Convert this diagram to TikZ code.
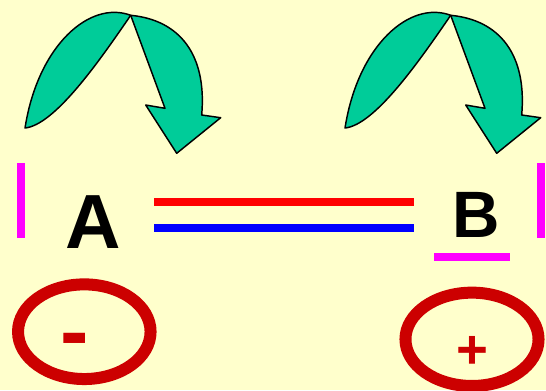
\documentclass[tikz,border=0pt]{standalone}
\usepackage{fontspec}
\setmainfont{Liberation Sans}
\usepackage{xcolor}
\usepackage{tikz}
\definecolor{paper}{HTML}{FFFFCC}
\definecolor{leafgreen}{HTML}{00CC99}
\definecolor{darkred}{HTML}{CC0000}
\definecolor{pink}{HTML}{FF00FF}
\definecolor{pureblue}{HTML}{0000FF}
\definecolor{purered}{HTML}{FF0000}

\begin{document}
\begin{tikzpicture}[x=0.75pt, y=-0.75pt,
        curlarrow/.style={fill=leafgreen, draw=black, line width=1.1pt, line join=round},
        pinkbar/.style={pink, line width=6pt},
        bond/.style={line width=6pt},
        chargering/.style={draw=darkred, line width=9pt},
        letter/.style={font=\bfseries, anchor=base, inner sep=0pt},
        charge/.style={text=darkred, font=\bfseries, anchor=base, inner sep=0pt}]
        % background
        \fill[paper] (0,0) rectangle (546,390);
        \useasboundingbox (0,0) rectangle (546,390);

        % curved arrows above A and B
        \foreach \dx in {0, 320} {
            \begin{scope}[shift={(\dx,0)}]
                \filldraw[curlarrow] (130.7,15.3) .. controls (100,60) and (55,125) .. (25,128)
                    .. controls (38,45) and (90,0) .. cycle;
                \filldraw[curlarrow] (130.7,15.3) -- (165,108.3) -- (145.7,105) -- (176.7,153.3)
                    -- (220.7,117.7) -- (201.7,115) .. controls (207,55) and (180,20) .. cycle;
            \end{scope}
        }

        % letters
        \node[letter, font=\fontsize{57.6}{60}\selectfont\bfseries] (A) at (93,248.3) {A};
        \node[letter, font=\fontsize{49.2}{52}\selectfont\bfseries] (B) at (476,237.3) {B};

        % bars
        \coordinate (barL1) at (20.5,163);
        \coordinate (barL2) at (20.5,238);
        \coordinate (barR1) at (540.5,163);
        \coordinate (barR2) at (540.5,238);
        \draw[pinkbar] (barL1) -- (barL2);
        \draw[pinkbar] (barR1) -- (barR2);
        \coordinate (lineB1) at (434,257);
        \coordinate (lineB2) at (510,257);
        \draw[pink, line width=5.6pt] (lineB1) -- (lineB2);

        % double bond
        \coordinate (redL) at (154,202);
        \coordinate (redR) at (414,202);
        \coordinate (blueL) at (154,228);
        \coordinate (blueR) at (414,228);
        \draw[bond, purered] (redL) -- (redR);
        \draw[bond, pureblue] (blueL) -- (blueR);

        % charges
        \draw[chargering] (84.3,331.7) ellipse [x radius=49.7pt, y radius=35.5pt];
        \draw[chargering] (472,339.3) ellipse [x radius=49.9pt, y radius=35pt];
        \node[charge, font=\fontsize{64}{66}\selectfont\bfseries] (minus) at (74.5,360.4) {-};
        \node[charge, font=\fontsize{41}{44}\selectfont\bfseries] (plus) at (472,368) {+};
    \end{tikzpicture}
\end{document}
